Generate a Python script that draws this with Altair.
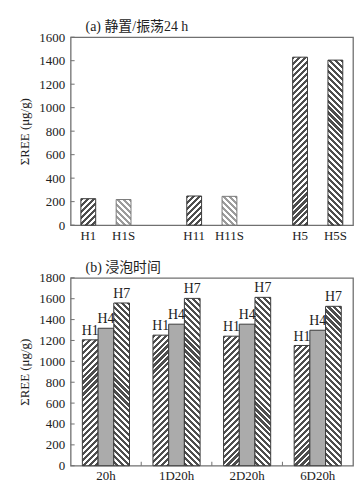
import altair as alt
import pandas as pd

# ---------------- data ----------------
a_cats = ["H1", "H1S", "H11", "H11S", "H5", "H5S"]
a_vals = [225, 218, 248, 245, 1430, 1405]
a_slots = ["H1", "H1S", "_1", "H11", "H11S", "_2", "H5", "H5S"]
a_ticks = [0, 200, 400, 600, 800, 1000, 1200, 1400, 1600]

b_groups = ["20h", "1D20h", "2D20h", "6D20h"]
b_series = ["H1", "H4", "H7"]
b_H1 = [1206, 1251, 1241, 1152]
b_H4 = [1317, 1356, 1356, 1298]
b_H7 = [1559, 1603, 1613, 1527]
b_ticks = [0, 200, 400, 600, 800, 1000, 1200, 1400, 1600, 1800]

# ---------------- style ----------------
W, H = 284, 189
SERIF = "Liberation Serif, Noto Sans CJK SC"
DARK = "#4e4e4e"
LIGHT = "#9c9c9c"
FRAME = "#707070"
a_style = {"H1": ("/", DARK), "H1S": ("\\", LIGHT), "H11": ("/", DARK),
           "H11S": ("\\", LIGHT), "H5": ("/", DARK), "H5S": ("\\", DARK)}
b_style = {"H1": ("/", DARK), "H4": ("solid", "#ababab"), "H7": ("\\", DARK)}


def stripes(w, h, direction, dark, period=6.0, frac=0.52):
    # linear gradient in bounding-box units, tuned so stripes run at 45 degrees
    dt = period / (w + h)
    stops = []
    k = 0
    while k * dt < 1.0:
        a = k * dt
        b = min(a + frac * dt, 1.0)
        c = min(a + dt, 1.0)
        stops += [alt.GradientStop(offset=a, color=dark), alt.GradientStop(offset=b, color=dark),
                  alt.GradientStop(offset=b, color="#ffffff"), alt.GradientStop(offset=c, color="#ffffff")]
        k += 1
    kk = (w + h) / (w * w + h * h)
    if direction == "/":
        return alt.LinearGradient(gradient="linear", stops=stops, x1=0, y1=0, x2=w * kk, y2=h * kk)
    return alt.LinearGradient(gradient="linear", stops=stops, x1=1, y1=0, x2=1 - w * kk, y2=h * kk)


def fill_for(style, h, w):
    kind, col = style
    if kind == "solid":
        return col
    return stripes(w, h, kind, col)


def ptitle(text):
    return alt.TitleParams(text, anchor="start", frame="group", dx=15, fontSize=14,
                           font=SERIF, fontWeight="normal", color="#222", offset=-3)


def yaxis(vals):
    return alt.Axis(values=vals, title="ΣREE (μg/g)", ticks=False, domain=False, format="d",
                    grid=False, labelPadding=6, titlePadding=7, labelOverlap=False)


# ---------------- panel (a) ----------------
dfa = pd.DataFrame({"cat": a_cats, "v": a_vals})
ysa = alt.Scale(domain=[0, 1600], nice=False, zero=True)
xa = alt.X("cat:N", scale=alt.Scale(domain=a_slots, paddingInner=0.58, paddingOuter=0.29),
           axis=alt.Axis(title=None, ticks=False, domain=False, labelAngle=0, labelPadding=4,
                         labelExpr="indexof(datum.label, '_') == 0 ? '' : datum.label"))
ya = alt.Y("v:Q", scale=ysa, axis=yaxis(a_ticks))
bw_a = W / 8 * 0.42
layers_a = []
for c, v in zip(a_cats, a_vals):
    h = v / 1600 * H
    layers_a.append(
        alt.Chart(dfa).transform_filter(alt.datum.cat == c)
        .mark_bar(fill=fill_for(a_style[c], h, bw_a), stroke="#3a3a3a" if a_style[c][1] == DARK else "#7a7a7a",
                  strokeWidth=1)
        .encode(x=xa, y=ya)
    )
tick_a = alt.Chart(pd.DataFrame({"v": a_ticks})).mark_rule(color=FRAME, strokeWidth=1).encode(
    y=ya, x=alt.value(0), x2=alt.value(4))
panel_a = alt.layer(*layers_a, tick_a).properties(width=W, height=H, title=ptitle("(a) 静置/振荡24 h"))

# ---------------- panel (b) ----------------
rows = []
for i, g in enumerate(b_groups):
    for s, vals in zip(b_series, [b_H1, b_H4, b_H7]):
        rows.append({"g": g, "s": s, "v": vals[i]})
dfb = pd.DataFrame(rows)
xsb = alt.Scale(domain=b_groups, paddingInner=0, paddingOuter=0)
xaxb = alt.Axis(title=None, ticks=False, domain=False, labelAngle=0, labelPadding=4)
xb = alt.X("g:N", scale=xsb, axis=xaxb)
xob = alt.XOffset("s:N", scale=alt.Scale(domain=b_series, paddingInner=0, paddingOuter=0.747))
ysb = alt.Scale(domain=[0, 1800], nice=False, zero=True)
yb = alt.Y("v:Q", scale=ysb, axis=yaxis(b_ticks))
bw_b = W / 4 / 4.494
layers_b = []
for r in rows:
    h = r["v"] / 1800 * H
    layers_b.append(
        alt.Chart(dfb).transform_filter((alt.datum.g == r["g"]) & (alt.datum.s == r["s"]))
        .mark_bar(fill=fill_for(b_style[r["s"]], h, bw_b), stroke="#3a3a3a", strokeWidth=1)
        .encode(x=xb, xOffset=xob, y=yb)
    )
text_b = alt.Chart(dfb).mark_text(baseline="bottom", dy=-2, fontSize=14, font=SERIF, color="#222").encode(
    x=xb, xOffset=xob, y=yb, text="s:N")
tick_b = alt.Chart(pd.DataFrame({"v": b_ticks})).mark_rule(color=FRAME, strokeWidth=1).encode(
    y=yb, x=alt.value(0), x2=alt.value(4))
gtick_b = alt.Chart(pd.DataFrame({"g": b_groups[1:]})).mark_rule(color=FRAME, strokeWidth=1).encode(
    x=alt.X("g:N", bandPosition=0, scale=xsb, axis=xaxb),
    y=alt.value(H - 4), y2=alt.value(H))
panel_b = alt.layer(*layers_b, text_b, tick_b, gtick_b).properties(width=W, height=H, title=ptitle("(b) 浸泡时间"))

chart = (
    alt.vconcat(panel_a, panel_b, spacing=17)
    .properties(padding={"left": 10, "top": 10, "right": 2, "bottom": 2}, background="white")
    .configure_view(stroke=FRAME, strokeWidth=1.3)
    .configure_axis(labelFont=SERIF, labelFontSize=13, labelColor="#222",
                    titleFont=SERIF, titleFontSize=13, titleColor="#222", titleFontWeight="normal")
)

chart.save("out.html", embed_options={"renderer": "svg", "actions": False})
